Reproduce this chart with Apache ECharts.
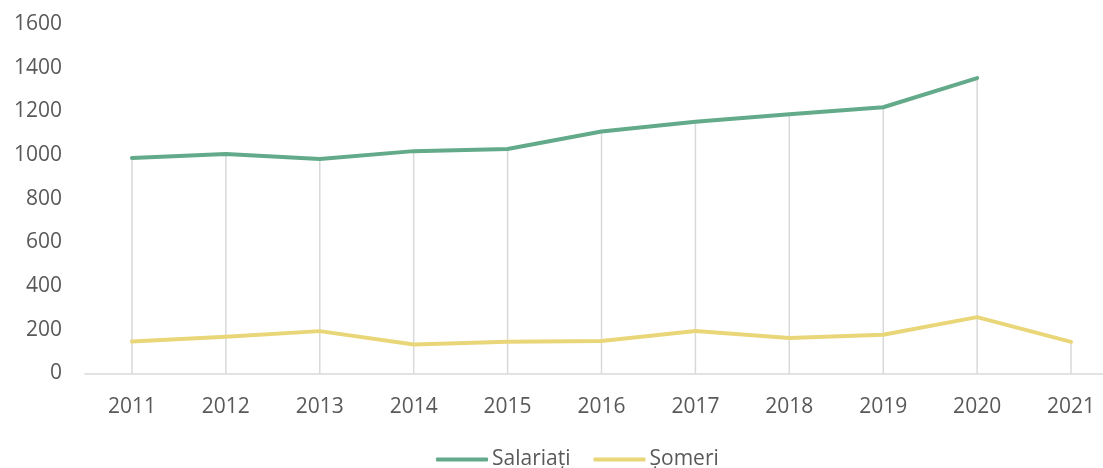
<!DOCTYPE html>
<html>
<head>
<meta charset="utf-8">
<script src="https://cdn.jsdelivr.net/npm/echarts@6/dist/echarts.min.js"></script>
<style>html,body{margin:0;padding:0;background:#fff;overflow:hidden}#c{width:1118px;height:468px}</style>
</head>
<body>
<div id="c"></div>
<script>
const years = ['2011','2012','2013','2014','2015','2016','2017','2018','2019','2020','2021'];
const salariati = [987, 1005, 982, 1018, 1028, 1108, 1153, 1187, 1219, 1352, null];
const someri = [147, 168, 194, 133, 145, 149, 195, 163, 177, 258, 145];
const yTicks = [0, 200, 400, 600, 800, 1000, 1200, 1400, 1600];

const dropLines = years.map((_, i) => Math.max(salariati[i] == null ? 0 : salariati[i], someri[i] == null ? 0 : someri[i]));

const chart = echarts.init(document.getElementById('c'), null, {renderer: 'canvas'});
const font = '"Open Sans", "Noto Sans", sans-serif';
chart.setOption({
  animation: false,
  backgroundColor: '#ffffff',
  grid: {left: 85, top: 24, right: 0, bottom: 94.5, containLabel: false},
  legend: {
    data: ['Salariați', 'Șomeri'],
    top: 444,
    left: 431,
    icon: 'roundRect',
    itemWidth: 52,
    itemHeight: 4,
    itemGap: 23,
    textStyle: {fontFamily: font, fontSize: 21, color: '#595959', padding: [0, 0, 0, -1]}
  },
  xAxis: {
    type: 'category',
    data: years,
    boundaryGap: true,
    axisLine: {lineStyle: {color: '#d9d9d9', width: 1.5}},
    axisTick: {show: false},
    axisLabel: {fontFamily: font, fontSize: 21, color: '#595959', margin: 23},
    splitLine: {show: false}
  },
  yAxis: {
    type: 'value',
    min: yTicks[0],
    max: yTicks[yTicks.length - 1],
    interval: 200,
    axisLine: {show: false},
    axisTick: {show: false},
    splitLine: {show: false},
    axisLabel: {fontFamily: font, fontSize: 21, color: '#595959', margin: 23, formatter: v => String(v)}
  },
  series: [
    {
      name: 'drop',
      type: 'bar',
      data: dropLines,
      barWidth: 1.5,
      itemStyle: {color: '#d9d9d9'},
      silent: true,
      z: 1
    },
    {
      name: 'Salariați',
      type: 'line',
      data: salariati,
      showSymbol: false,
      symbol: 'none',
      itemStyle: {color: '#62aa89'},
      lineStyle: {color: '#62aa89', width: 4, cap: 'round', join: 'round'},
      z: 3
    },
    {
      name: 'Șomeri',
      type: 'line',
      data: someri,
      showSymbol: false,
      symbol: 'none',
      itemStyle: {color: '#e9d679'},
      lineStyle: {color: '#e9d679', width: 4, cap: 'round', join: 'round'},
      z: 2
    }
  ]
});
</script>
</body>
</html>
